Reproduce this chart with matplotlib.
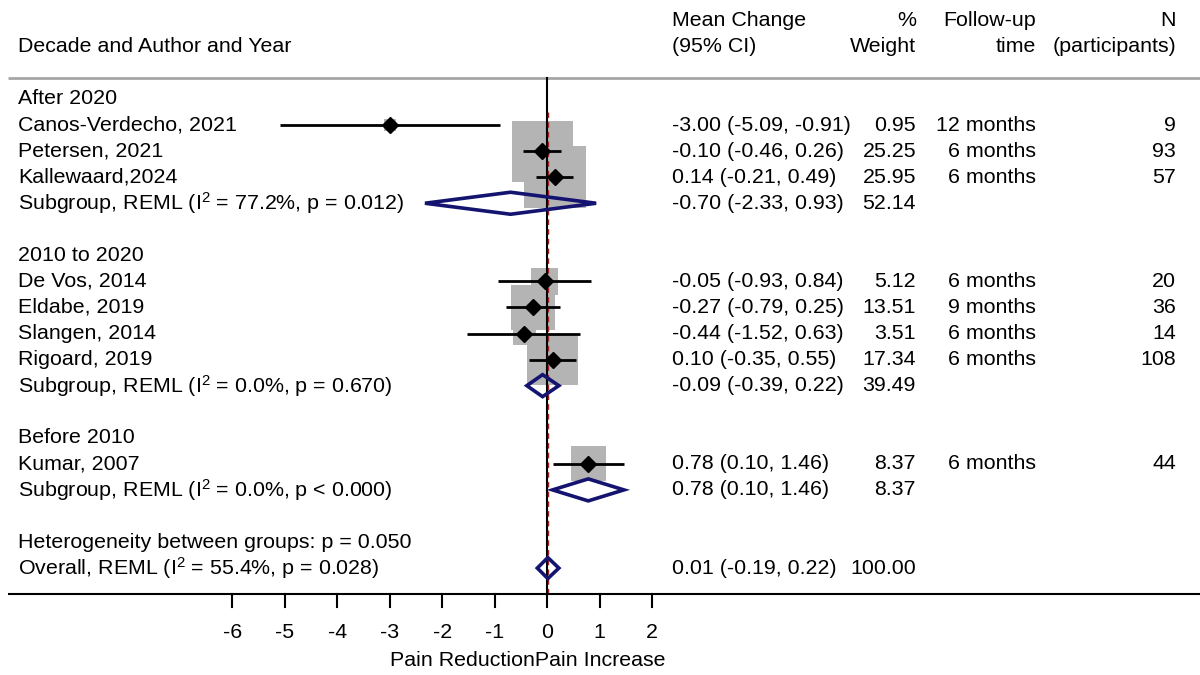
import matplotlib
matplotlib.use("Agg")
import matplotlib.pyplot as plt
from matplotlib.patches import Polygon, Rectangle
from matplotlib.transforms import blended_transform_factory

plt.rcParams['font.family'] = ['Liberation Sans', 'DejaVu Sans']
plt.rcParams['mathtext.fontset'] = 'custom'
plt.rcParams['mathtext.rm'] = 'Liberation Sans'
plt.rcParams['mathtext.it'] = 'Liberation Sans'

# ---- data ----
group_names = ["After 2020", "2010 to 2020", "Before 2010"]

study_labels = ["Canos-Verdecho, 2021", "Petersen, 2021", "Kallewaard,2024",
                "De Vos, 2014", "Eldabe, 2019", "Slangen, 2014", "Rigoard, 2019",
                "Kumar, 2007"]
study_group = [0, 0, 0, 1, 1, 1, 1, 2]
study_est = [-3.00, -0.10, 0.14, -0.05, -0.27, -0.44, 0.10, 0.78]
study_lo = [-5.09, -0.46, -0.21, -0.93, -0.79, -1.52, -0.35, 0.10]
study_hi = [-0.91, 0.26, 0.49, 0.84, 0.25, 0.63, 0.55, 1.46]
study_weight = [0.95, 25.25, 25.95, 5.12, 13.51, 3.51, 17.34, 8.37]
study_followup = ["12 months", "6 months", "6 months", "6 months", "9 months",
                  "6 months", "6 months", "6 months"]
study_n = [9, 93, 57, 20, 36, 14, 108, 44]

sub_est = [-0.70, -0.09, 0.78]
sub_lo = [-2.33, -0.39, 0.10]
sub_hi = [0.93, 0.22, 1.46]
sub_weight = [52.14, 39.49, 8.37]
sub_i2 = ["77.2%", "0.0%", "0.0%"]
sub_p = ["p = 0.012", "p = 0.670", "p < 0.000"]

overall_est, overall_lo, overall_hi = 0.01, -0.19, 0.22
overall_weight = 100.00
overall_i2, overall_p = "55.4%", "p = 0.028"
between_p = "p = 0.050"

xticks = [-6, -5, -4, -3, -2, -1, 0, 1, 2]

# ---- layout ----
W, H = 1200, 675
PX_PER_UNIT = 52.5
X0_PX = 547.3
ROW0_PX, ROW_PX = 99.0, 26.06


def row_of(ypx):
    return (ypx - ROW0_PX) / ROW_PX


fig = plt.figure(figsize=(12, 6.75), dpi=100)
ax = fig.add_axes([0, 0, 1, 1])
ax.set_xlim(-X0_PX / PX_PER_UNIT, (W - X0_PX) / PX_PER_UNIT)
ax.set_ylim(row_of(H), row_of(0))
ax.axis('off')
tr = blended_transform_factory(ax.transAxes, ax.transData)

FS = 15.4
col_label = 18 / W
col_ci = 672 / W
col_wt = 916 / W
col_fu = 1036 / W
col_n = 1176 / W


def txt(x, y, s, ha='left'):
    ax.text(x, y, s, transform=tr, ha=ha, va='center', fontsize=FS)


# header
txt(col_label, row_of(46), "Decade and Author and Year")
txt(col_ci, row_of(20), "Mean Change")
txt(col_ci, row_of(46), "(95% CI)")
txt(col_wt, row_of(20), "%", 'right')
txt(col_wt, row_of(46), "Weight", 'right')
txt(col_fu, row_of(20), "Follow-up", 'right')
txt(col_fu, row_of(46), "time", 'right')
txt(col_n, row_of(20), "N", 'right')
txt(col_n, row_of(46), "(participants)", 'right')

ax.plot([8 / W, 1.0], [row_of(78), row_of(78)], transform=tr, color='#a6a6a6', lw=2,
        solid_capstyle='butt')

navy = '#141470'
box_gray = '#b4b4b4'


def ci_fmt(e, l, h):
    return f"{e:.2f} ({l:.2f}, {h:.2f})"


def diamond(e, lo, hi, r, half_px):
    hh = half_px / ROW_PX
    ax.add_patch(Polygon([(lo, r), (e, r - hh), (hi, r), (e, r + hh)], closed=True,
                         fill=False, edgecolor=navy, lw=2.6, zorder=5))


row = 0
for g, gname in enumerate(group_names):
    txt(col_label, row, gname)
    row += 1
    for i in range(len(study_labels)):
        if study_group[i] != g:
            continue
        e, lo, hi, w = study_est[i], study_lo[i], study_hi[i], study_weight[i]
        side = 12.15 * w ** 0.5
        bw, bh = side / PX_PER_UNIT, side / ROW_PX
        ax.add_patch(Rectangle((e - bw / 2, row - bh / 2), bw, bh, facecolor=box_gray,
                               edgecolor='none', zorder=1))
        ax.plot([lo, hi], [row, row], color='black', lw=2, zorder=3, solid_capstyle='butt')
        ax.plot([e], [row], marker='D', color='black', markersize=8, zorder=4)
        txt(col_label, row, study_labels[i])
        txt(col_ci, row, ci_fmt(e, lo, hi))
        txt(col_wt, row, f"{w:.2f}", 'right')
        txt(col_fu, row, study_followup[i], 'right')
        txt(col_n, row, f"{study_n[i]}", 'right')
        row += 1
    # subgroup pooled estimate
    diamond(sub_est[g], sub_lo[g], sub_hi[g], row, 11)
    txt(col_label, row, f"Subgroup, REML (I$^2$ = {sub_i2[g]}, {sub_p[g]})")
    txt(col_ci, row, ci_fmt(sub_est[g], sub_lo[g], sub_hi[g]))
    txt(col_wt, row, f"{sub_weight[g]:.2f}", 'right')
    row += 2

# between-group heterogeneity and overall estimate
txt(col_label, row, f"Heterogeneity between groups: {between_p}")
row += 1
diamond(overall_est, overall_lo, overall_hi, row, 10.5)
txt(col_label, row, f"Overall, REML (I$^2$ = {overall_i2}, {overall_p})")
txt(col_ci, row, ci_fmt(overall_est, overall_lo, overall_hi))
txt(col_wt, row, f"{overall_weight:.2f}", 'right')

# reference lines
axis_row = row_of(594)
ax.plot([0, 0], [row_of(78), axis_row], color='black', lw=1.5, zorder=2)
ax.plot([overall_est, overall_est], [row_of(112), axis_row], color='#a02020', lw=1,
        ls=(0, (4, 3)), zorder=2)

# x axis
ax.plot([8 / W, 1.0], [axis_row, axis_row], transform=tr, color='black', lw=1.5,
        solid_capstyle='butt')
tick_end = row_of(607)
for t in xticks:
    ax.plot([t, t], [axis_row, tick_end], color='black', lw=1.5)
    ax.text(t, row_of(632), f"{t}", ha='center', va='center', fontsize=FS)
ax.text((527.5 - X0_PX) / PX_PER_UNIT, row_of(661), "Pain ReductionPain Increase",
        ha='center', va='center', fontsize=FS)

fig.savefig("out.png", dpi=100, facecolor='white')
